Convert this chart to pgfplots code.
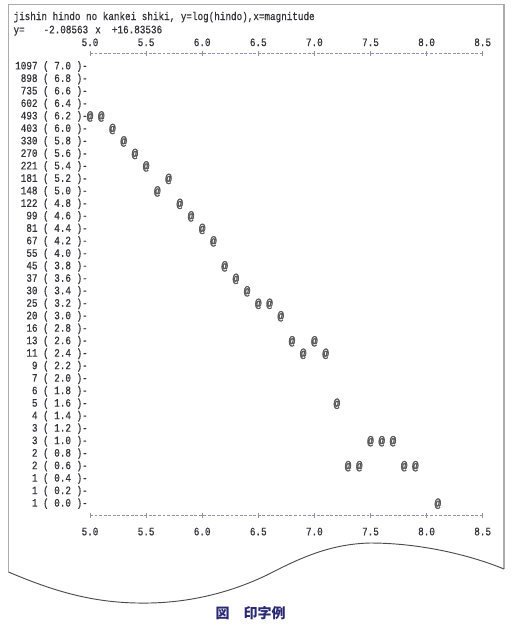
\documentclass[border=0pt]{standalone}
\usepackage{pgfplots}
\pgfplotsset{compat=1.18}
\usepackage{fontspec}
\setmainfont{Liberation Serif}
\newfontfamily\prt{Liberation Mono}[FakeStretch=0.82, FakeBold=0.6]
\newfontfamily\mkf{Liberation Mono}[FakeStretch=0.9, FakeBold=2.5]
\newfontfamily\cjk{Noto Sans CJK JP}
\definecolor{ink}{rgb}{0.2,0.2,0.22}
\definecolor{capblue}{rgb}{0.16,0.16,0.45}
\definecolor{axgray}{rgb}{0.6,0.55,0.7}
\newcommand\pf{\prt\fontsize{8.5}{9}\selectfont}
\begin{document}
\begin{tikzpicture}
\begin{axis}[
  at={(67.5pt,-386.625pt)}, anchor=south west,
  scale only axis, width=294.5pt, height=346.6pt,
  xmin=5, xmax=8.5, ymin=-0.19, ymax=7.21,
  clip=false,
  separate axis lines,
  y axis line style={draw=none},
  x axis line style={draw=axgray, line width=0.6pt, dash pattern=on 2.2pt off 1.2pt},
  xtick={5,5.5,6,6.5,7,7.5,8,8.5},
  xticklabels={5.0,5.5,6.0,6.5,7.0,7.5,8.0,8.5},
  xticklabel pos=lower,
  xtick align=center,
  x tick style={draw=axgray, line width=0.6pt},
  major tick length=3.5pt,
  xticklabel style={font=\pf, text=ink, anchor=base, inner sep=0pt, yshift=-13.1pt},
  ytick={0,0.2,0.4,0.6,0.8,1.0,1.2,1.4,1.6,1.8,2.0,2.2,2.4,2.6,2.8,3.0,3.2,3.4,3.6,3.8,4.0,4.2,4.4,4.6,4.8,5.0,5.2,5.4,5.6,5.8,6.0,6.2,6.4,6.6,6.8,7.0},
  yticklabels={1 ( 0.0 )-,1 ( 0.2 )-,1 ( 0.4 )-,2 ( 0.6 )-,2 ( 0.8 )-,3 ( 1.0 )-,3 ( 1.2 )-,4 ( 1.4 )-,5 ( 1.6 )-,6 ( 1.8 )-,7 ( 2.0 )-,9 ( 2.2 )-,11 ( 2.4 )-,13 ( 2.6 )-,16 ( 2.8 )-,20 ( 3.0 )-,25 ( 3.2 )-,30 ( 3.4 )-,37 ( 3.6 )-,45 ( 3.8 )-,55 ( 4.0 )-,67 ( 4.2 )-,81 ( 4.4 )-,99 ( 4.6 )-,122 ( 4.8 )-,148 ( 5.0 )-,181 ( 5.2 )-,221 ( 5.4 )-,270 ( 5.6 )-,330 ( 5.8 )-,403 ( 6.0 )-,493 ( 6.2 )-,602 ( 6.4 )-,735 ( 6.6 )-,898 ( 6.8 )-,1097 ( 7.0 )-},
  y tick style={draw=none},
  yticklabel style={font=\pf, text=ink, anchor=east, inner sep=0pt, xshift=-1.5pt},
]
\addplot[only marks, mark=text, text mark={@}, text mark as node=true,
  text mark style={font=\mkf\fontsize{9}{9}\selectfont, text=black!65}]
  coordinates {
  (5.0,6.2) (5.1,6.2) (5.2,6.0) (5.3,5.8) (5.4,5.6) (5.5,5.4) (5.6,5.0) (5.7,5.2)
  (5.8,4.8) (5.9,4.6) (6.0,4.4) (6.1,4.2) (6.2,3.8) (6.3,3.6) (6.4,3.4) (6.5,3.2)
  (6.6,3.2) (6.7,3.0) (6.8,2.6) (6.9,2.4) (7.0,2.6) (7.1,2.4) (7.2,1.6) (7.3,0.6)
  (7.4,0.6) (7.5,1.0) (7.6,1.0) (7.7,1.0) (7.8,0.6) (7.9,0.6) (8.1,0.0)
  };
\end{axis}
\begin{axis}[
  at={(67.5pt,-386.625pt)}, anchor=south west,
  scale only axis, width=294.5pt, height=346.6pt,
  xmin=5, xmax=8.5, ymin=-0.19, ymax=7.21,
  axis line style={draw=none},
  tick style={draw=none},
  ytick=\empty,
  xtick={5,5.5,6,6.5,7,7.5,8,8.5},
  xticklabels={5.0,5.5,6.0,6.5,7.0,7.5,8.0,8.5},
  xticklabel pos=upper,
  xticklabel style={font=\pf, text=ink, anchor=base, inner sep=0pt, yshift=5.5pt},
]
\end{axis}
\begin{scope}[x=0.75pt, y=-0.75pt]
\path[use as bounding box] (0,0) rectangle (513,626);
\draw[gray!65, line width=0.8pt] (8.5,572) -- (8.5,4.5) -- (504,4.5) -- (504,569);
\draw[black!70, line width=0.7pt] (8.5,572) .. controls (60,594) and (100,604) .. (150,603)
  .. controls (200,602) and (240,588) .. (267,575)
  .. controls (300,558) and (330,544) .. (370,543)
  .. controls (420,543) and (470,555) .. (504,569);
\node[font=\pf, text=ink, anchor=base west, inner sep=0pt] at (13.3,20) {jishin hindo no kankei shiki, y=log(hindo),x=magnitude};
\node[font=\pf, text=ink, anchor=base west, inner sep=0pt] at (13.3,33.3) {y=};
\node[font=\pf, text=ink, anchor=base west, inner sep=0pt] at (43.3,33.3) {-2.08563};
\node[font=\pf, text=ink, anchor=base west, inner sep=0pt] at (95,33.3) {x};
\node[font=\pf, text=ink, anchor=base west, inner sep=0pt] at (111.7,33.3) {+16.83536};
\node[font=\cjk\bfseries\fontsize{10.5}{12}\selectfont, text=capblue] at (250.5,613) {図　印字例};
\end{scope}
\end{tikzpicture}
\end{document}
